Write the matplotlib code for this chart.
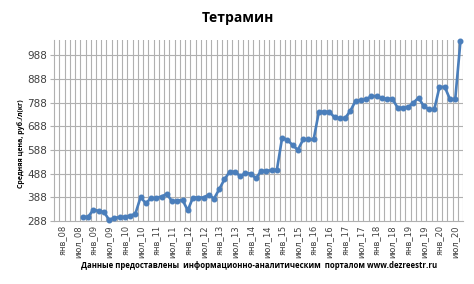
import matplotlib
matplotlib.use("Agg")
import matplotlib.pyplot as plt
import numpy as np

# подписи оси X (каждая третья категория, шаг категорий 2 месяца)
tick_labels = ["янв_08", "июл_08", "янв_09", "июл_09", "янв_10", "июл_10",
               "янв_11", "июл_11", "янв_12", "июл_12", "янв_13", "июл_13",
               "янв_14", "июл_14", "янв_15", "июл_15", "янв_16", "июл_16",
               "янв_17", "июл_17", "янв_18", "июл_18", "янв_19", "июл_19",
               "янв_20", "июл_20"]

n_categories = 78      # ноя_07 ... сен_20
first_label = 1        # янв_08
first_value = 5        # сен_08

# средняя цена, руб./л(кг)
prices = [306, 305, 336, 330, 326, 293, 301, 304, 306, 310,
          318, 388, 363, 384, 386, 391, 402, 371, 374, 376,
          333, 387, 387, 387, 399, 382, 422, 464, 496, 496,
          477, 490, 488, 468, 500, 500, 502, 505, 640, 630,
          608, 588, 632, 632, 632, 749, 750, 749, 725, 722,
          722, 753, 795, 798, 801, 815, 815, 806, 804, 804,
          767, 766, 768, 787, 808, 773, 759, 759, 854, 854,
          802, 802, 1048]

yticks = [288, 388, 488, 588, 688, 788, 888, 988]

fig = plt.figure(figsize=(4.74, 2.84), dpi=100)
ax = fig.add_axes([0.114, 0.222, 0.863, 0.637])

x = np.arange(first_value, first_value + len(prices))
ax.plot(x, prices, color="#4a7ebb", linewidth=1.9, marker="o", markersize=3.3,
        markerfacecolor="#4a7ebb", markeredgecolor="#4a7ebb", zorder=3, clip_on=False)

ax.set_xlim(-0.5, n_categories - 0.5)
ax.set_ylim(288, 1052)

grid_c = "#b0b0b0"
# вертикальная сетка по границам категорий
for b in np.arange(0.5, n_categories, 1):
    ax.axvline(b, color=grid_c, linewidth=0.8, zorder=1)
for yv in yticks[1:]:
    ax.axhline(yv, color=grid_c, linewidth=0.8, zorder=1)

ax.set_yticks(yticks)
ax.set_yticklabels([str(v) for v in yticks], fontsize=7.5, color="#404040")
ax.set_xticks(np.arange(first_label, first_label + 3 * len(tick_labels), 3))
ax.set_xticklabels(tick_labels, rotation=90, fontsize=6, color="#404040")
ax.tick_params(axis="x", length=0, pad=3)
ax.tick_params(axis="y", length=3, color=grid_c, pad=2)

for s in ["top", "right"]:
    ax.spines[s].set_visible(False)
ax.spines["left"].set_color(grid_c)
ax.spines["bottom"].set_color(grid_c)

fig.text(0.501, 0.935, "Тетрамин", ha="center", va="center",
         fontsize=10, fontweight="bold", family="Open Sans")
fig.text(0.044, 0.493, "Средняя цена, руб./л(кг)", rotation=90, ha="center", va="center",
         fontsize=5, fontweight="bold", family="Open Sans")
fig.text(0.547, 0.064, "Данные предоставлены  информационно-аналитическим  порталом www.dezreestr.ru",
         ha="center", va="center", fontsize=5.6, fontweight="bold", family="Open Sans")

fig.savefig("out.png", dpi=100)
